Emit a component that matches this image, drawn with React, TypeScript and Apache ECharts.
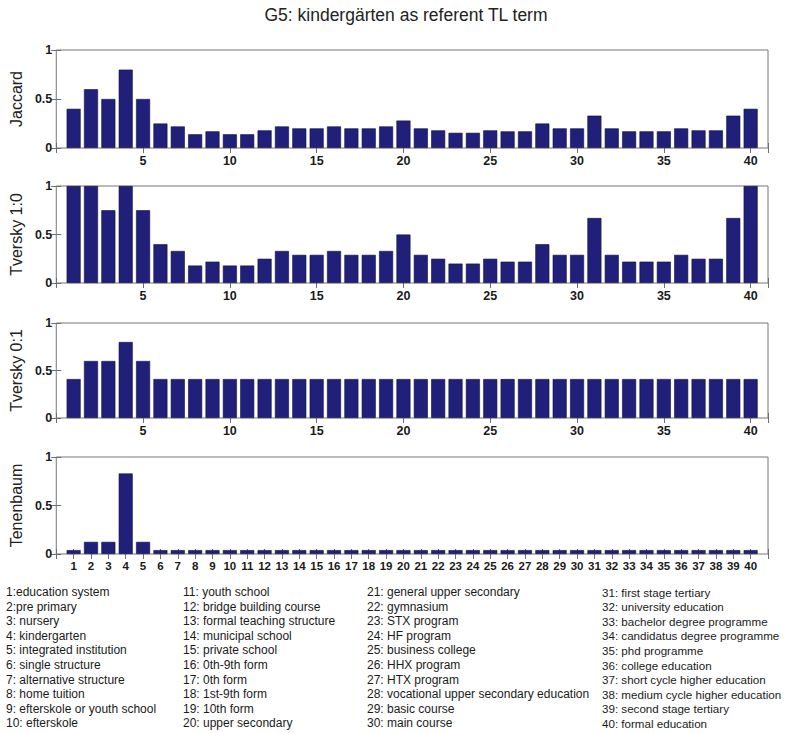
import React, { useEffect, useRef } from "react";
import * as echarts from "echarts";

const titleText = "G5: kindergärten as referent TL term";
const panelNames = ["Jaccard", "Tversky 1:0", "Tversky 0:1", "Tenenbaum"];

const jaccard = [
  0.4, 0.6, 0.5, 0.8, 0.5, 0.25, 0.22, 0.14, 0.17, 0.14,
  0.14, 0.18, 0.22, 0.2, 0.2, 0.22, 0.2, 0.2, 0.22, 0.28,
  0.2, 0.18, 0.155, 0.155, 0.18, 0.17, 0.17, 0.25, 0.2, 0.2,
  0.33, 0.2, 0.17, 0.17, 0.17, 0.2, 0.18, 0.18, 0.33, 0.4,
];
const tversky10 = [
  1, 1, 0.75, 1, 0.75, 0.4, 0.33, 0.18, 0.22, 0.18,
  0.18, 0.25, 0.33, 0.29, 0.29, 0.33, 0.29, 0.29, 0.33, 0.5,
  0.29, 0.25, 0.2, 0.2, 0.25, 0.22, 0.22, 0.4, 0.29, 0.29,
  0.67, 0.29, 0.22, 0.22, 0.22, 0.29, 0.25, 0.25, 0.67, 1,
];
const tversky01 = [
  0.41, 0.6, 0.6, 0.8, 0.6, 0.41, 0.41, 0.41, 0.41, 0.41,
  0.41, 0.41, 0.41, 0.41, 0.41, 0.41, 0.41, 0.41, 0.41, 0.41,
  0.41, 0.41, 0.41, 0.41, 0.41, 0.41, 0.41, 0.41, 0.41, 0.41,
  0.41, 0.41, 0.41, 0.41, 0.41, 0.41, 0.41, 0.41, 0.41, 0.41,
];
const tenenbaum = [
  0.04, 0.125, 0.125, 0.83, 0.125, 0.04, 0.04, 0.04, 0.04, 0.04,
  0.04, 0.04, 0.04, 0.04, 0.04, 0.04, 0.04, 0.04, 0.04, 0.04,
  0.04, 0.04, 0.04, 0.04, 0.04, 0.04, 0.04, 0.04, 0.04, 0.04,
  0.04, 0.04, 0.04, 0.04, 0.04, 0.04, 0.04, 0.04, 0.04, 0.04,
];
const yTicks = [0, 0.5, 1];

const legendLabels = [
  "1:education system",
  "2:pre primary",
  "3: nursery",
  "4: kindergarten",
  "5: integrated institution",
  "6: single structure",
  "7: alternative structure",
  "8: home tuition",
  "9: efterskole or youth school",
  "10: efterskole",
  "11: youth school",
  "12: bridge building course",
  "13: formal teaching structure",
  "14: municipal school",
  "15: private school",
  "16: 0th-9th form",
  "17: 0th form",
  "18: 1st-9th form",
  "19: 10th form",
  "20: upper secondary",
  "21: general upper secondary",
  "22: gymnasium",
  "23: STX program",
  "24: HF program",
  "25: business college",
  "26: HHX program",
  "27: HTX program",
  "28: vocational upper secondary education",
  "29: basic course",
  "30: main course",
  "31: first stage tertiary",
  "32: university education",
  "33: bachelor degree programme",
  "34: candidatus degree programme",
  "35: phd programme",
  "36: college education",
  "37: short cycle higher education",
  "38: medium cycle higher education",
  "39: second stage tertiary",
  "40: formal education",
];

const FONT = "Liberation Sans, Arial, Helvetica, sans-serif";

export default function App() {
  const ref = useRef<HTMLDivElement>(null);
  useEffect(() => {
    if (!ref.current) return;
    const chart = echarts.init(ref.current, undefined, { renderer: "svg" });
    const panels = [jaccard, tversky10, tversky01, tenenbaum];
    const grids = [
      { top: 50, height: 98 },
      { top: 186, height: 97 },
      { top: 323, height: 95 },
      { top: 457, height: 97 },
    ];
    const xAxis: any[] = [];
    const yAxis: any[] = [];
    const series: any[] = [];
    const tickStyle = { show: true, inside: true, length: 5, lineStyle: { color: "#6e6e6e", width: 1 } };
    panels.forEach((vals, i) => {
      const dense = i === 3;
      xAxis.push({
        type: "value",
        gridIndex: i,
        min: 0,
        max: 41,
        interval: dense ? 1 : 5,
        axisLine: { show: false },
        axisTick: tickStyle,
        splitLine: { show: false },
        axisLabel: {
          color: "#1a1a1a",
          fontFamily: FONT,
          fontWeight: "bold",
          fontSize: dense ? 11.5 : 12.5,
          margin: 6,
          formatter: (v: number) => (v >= 1 && v <= 40 ? String(v) : ""),
        },
      });
      xAxis.push({
        type: "value",
        gridIndex: i,
        position: "top",
        min: 0,
        max: 41,
        interval: dense ? 1 : 5,
        axisLine: { show: false },
        axisTick: tickStyle,
        splitLine: { show: false },
        axisLabel: { show: false },
      });
      yAxis.push({
        type: "value",
        gridIndex: i,
        min: yTicks[0],
        max: yTicks[yTicks.length - 1],
        interval: 0.5,
        axisLine: { show: false },
        axisTick: tickStyle,
        splitLine: { show: false },
        name: panelNames[i],
        nameLocation: "middle",
        nameRotate: 90,
        nameGap: 19,
        nameTextStyle: { fontFamily: FONT, fontSize: 16, color: "#222" },
        axisLabel: {
          color: "#1a1a1a",
          fontFamily: FONT,
          fontWeight: "bold",
          fontSize: 12.5,
          margin: 4,
          formatter: (v: number) => String(v),
        },
      });
      yAxis.push({
        type: "value",
        gridIndex: i,
        position: "right",
        min: yTicks[0],
        max: yTicks[yTicks.length - 1],
        interval: 0.5,
        axisLine: { show: false },
        axisTick: tickStyle,
        splitLine: { show: false },
        axisLabel: { show: false },
      });
      series.push({
        type: "bar",
        xAxisIndex: 2 * i,
        yAxisIndex: 2 * i,
        barWidth: 14,
        data: vals.map((v, k) => [k + 1, v]),
        itemStyle: { color: "#20207a", borderColor: "#101040", borderWidth: 0.6 },
        silent: true,
      });
    });

    const graphic: any[] = [
      {
        type: "text",
        x: 406,
        y: 15,
        style: {
          text: titleText,
          fontFamily: FONT,
          fontSize: 17.5,
          fill: "#222",
          textAlign: "center",
          textVerticalAlign: "middle",
        },
      },
    ];
    const colX = [6, 183, 367, 602];
    legendLabels.forEach((lab, k) => {
      const col = Math.floor(k / 10);
      const row = k % 10;
      graphic.push({
        type: "text",
        x: colX[col],
        y: 592 + row * 14.6,
        style: {
          text: lab,
          fontFamily: FONT,
          fontSize: col === 3 ? 11.6 : 12,
          fill: "#1a1a1a",
          textAlign: "left",
          textVerticalAlign: "middle",
        },
      });
    });

    chart.setOption({
      animation: false,
      backgroundColor: "#ffffff",
      grid: grids.map((g) => ({
        left: 54,
        right: 17,
        top: g.top,
        height: g.height,
        show: true,
        borderColor: "#777777",
        borderWidth: 1,
        backgroundColor: "transparent",
      })),
      xAxis,
      yAxis,
      series,
      graphic,
    });
    return () => chart.dispose();
  }, []);
  return (
    <div
      ref={ref}
      style={{ position: "absolute", left: 0, top: 0, width: 785, height: 733 }}
    />
  );
}
